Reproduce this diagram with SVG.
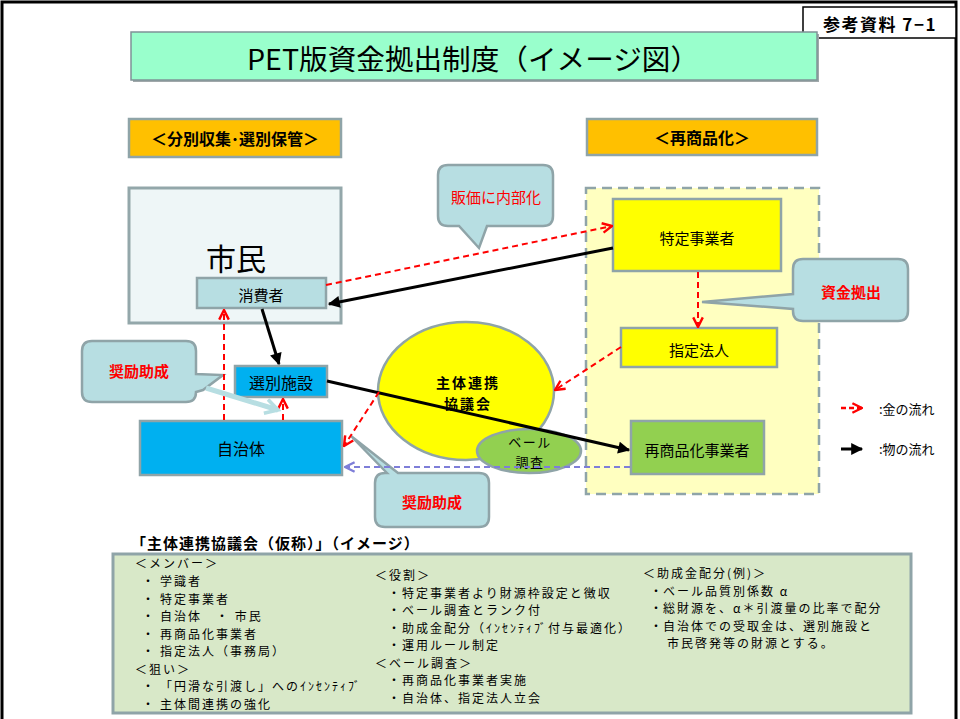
<svg xmlns="http://www.w3.org/2000/svg" width="960" height="719" viewBox="0 0 960 719">
<defs>
<style>
text{font-family:"Noto Sans CJK JP","Noto Sans",sans-serif;fill:#000;}
.c{text-anchor:middle;dominant-baseline:central;}
.n{font-size:15px;}
.b{font-weight:bold;}
.red{fill:#FF0000;}
.node{stroke:#8FA4A8;stroke-width:2.5;}
.call{fill:#B7DEE2;stroke:#8FA4A8;stroke-width:2.5;}
.money{fill:none;stroke:#FF0000;stroke-width:2;stroke-dasharray:6 4;marker-end:url(#mr);}
.goods{fill:none;stroke:#000;stroke-width:3;marker-end:url(#mb);}
.body text{font-size:12px;letter-spacing:2px;}
</style>
<marker id="mr" viewBox="0 0 10 10" refX="9" refY="5" markerWidth="12" markerHeight="12" markerUnits="userSpaceOnUse" orient="auto"><path d="M1,1 L9,5 L1,9" fill="none" stroke="#FF0000" stroke-width="2"/></marker>
<marker id="mb" viewBox="0 0 10 10" refX="9" refY="5" markerWidth="14" markerHeight="12" markerUnits="userSpaceOnUse" orient="auto"><path d="M0,0 L10,5 L0,10 z" fill="#000"/></marker>
<marker id="mp" viewBox="0 0 10 10" refX="9" refY="5" markerWidth="12" markerHeight="12" markerUnits="userSpaceOnUse" orient="auto"><path d="M1,1 L9,5 L1,9" fill="none" stroke="#7E7ED8" stroke-width="2"/></marker>
<marker id="ml" viewBox="0 0 10 10" refX="8" refY="5" markerWidth="18" markerHeight="18" markerUnits="userSpaceOnUse" orient="auto"><path d="M1,1 L8,5 L1,9" fill="none" stroke="#B7DEE2" stroke-width="2"/></marker>
</defs>

<rect x="0" y="0" width="960" height="719" fill="#fff"/>
<rect x="2" y="2" width="954" height="740" fill="none" stroke="#000" stroke-width="3"/>

<g id="ref-label">
<rect x="803" y="7" width="153" height="31" fill="#fff" stroke="#000" stroke-width="1.5"/>
<text class="c b" x="880" y="23" font-size="17" letter-spacing="1.5">参考資料 7−1</text>
</g>

<g id="title">
<rect x="133" y="34" width="686" height="48" fill="#A0A8AA"/>
<rect x="131" y="32" width="686" height="48" fill="#99FFCC" stroke="#7F9396" stroke-width="1.5"/>
<text class="c" x="473" y="58" font-size="28" textLength="452" lengthAdjust="spacingAndGlyphs">PET版資金拠出制度（イメージ図）</text>
</g>

<g id="header-left">
<rect x="129" y="119" width="212" height="38" fill="#FFC000" stroke="#8FA4A8" stroke-width="2.5"/>
<text class="c b" x="235" y="138" font-size="16">＜分別収集･選別保管＞</text>
</g>
<g id="header-right">
<rect x="587" y="119" width="230" height="36" fill="#FFC000" stroke="#8FA4A8" stroke-width="2.5"/>
<text class="c b" x="702" y="137" font-size="16">＜再商品化＞</text>
</g>

<g id="citizens">
<rect x="129" y="188" width="212" height="135" fill="#EEF6F7" stroke="#93A7AA" stroke-width="3"/>
<text class="c" x="236" y="257" font-size="30">市民</text>
</g>

<g id="region-right">
<rect x="586" y="188" width="233" height="306" fill="#FFFFC0" stroke="#8FA4A8" stroke-width="2.5" stroke-dasharray="10 6"/>
</g>

<g id="consumer">
<rect class="node" x="197" y="278" width="129" height="30" fill="#B7DEE2"/>
<text class="c n" x="261" y="294">消費者</text>
</g>
<g id="sorting">
<rect class="node" x="235" y="366" width="92" height="31" fill="#00B0F0"/>
<text class="c" x="281" y="382" font-size="16">選別施設</text>
</g>
<g id="municipality">
<rect class="node" x="140" y="421" width="202" height="54" fill="#00B0F0"/>
<text class="c" x="241" y="448" font-size="16">自治体</text>
</g>
<g id="specified-business">
<rect class="node" x="613" y="199" width="168" height="72" fill="#FFFF00"/>
<text class="c n" x="697" y="237">特定事業者</text>
</g>
<g id="designated-corp">
<rect class="node" x="621" y="328" width="156" height="39" fill="#FFFF00"/>
<text class="c n" x="699" y="349">指定法人</text>
</g>
<g id="recycler">
<rect class="node" x="631" y="421" width="133" height="53" fill="#92D050"/>
<text class="c n" x="697" y="449">再商品化事業者</text>
</g>

<g id="council">
<ellipse cx="466" cy="391" rx="88" ry="69" fill="#FFFF00" stroke="#8FA4A8" stroke-width="2.5"/>
<text class="c b" x="468" y="382" font-size="14" letter-spacing="2">主体連携</text>
<text class="c b" x="468" y="403" font-size="14" letter-spacing="2">協議会</text>
</g>
<g id="bale-survey">
<ellipse cx="529" cy="451" rx="52" ry="22" fill="#92D050" stroke="#8FA4A8" stroke-width="2.5"/>
<text class="c" x="530" y="441" font-size="13" letter-spacing="1.5">ベール</text>
<text class="c" x="530" y="461" font-size="13" letter-spacing="1.5">調査</text>
</g>

<g id="callout-price">
<path class="call" d="M448,165 H543 Q553,165 553,175 V216 Q553,226 543,226 H487 L479,248 L459,226 H448 Q438,226 438,216 V175 Q438,165 448,165 Z"/>
<text class="c red" x="496" y="196" font-size="15">販価に内部化</text>
</g>
<g id="callout-fund">
<path class="call" d="M803,259 H898 Q908,259 908,269 V311 Q908,321 898,321 H803 Q793,321 793,311 V309 L702,302 L793,294 V269 Q793,259 803,259 Z"/>
<text class="c b red" x="851" y="291" font-size="15">資金拠出</text>
</g>
<g id="callout-subsidy-left">
<path class="call" d="M92,341 H186 Q196,341 196,351 V374 L223,375 L203,390 L196,392 Q196,402 186,402 H92 Q82,402 82,392 V351 Q82,341 92,341 Z"/>
<text class="c b red" x="139" y="370" font-size="15">奨励助成</text>
</g>
<g id="callout-subsidy-bottom">
<path class="call" d="M387,473 L351,436 L398,473 H479 Q489,473 489,483 V517 Q489,527 479,527 H385 Q375,527 375,517 V483 Q375,473 385,473 Z"/>
<text class="c b red" x="432" y="501" font-size="15">奨励助成</text>
</g>

<g id="connectors">
<line class="money" x1="326" y1="285" x2="612" y2="226"/>
<line class="goods" x1="613" y1="248" x2="329" y2="304"/>
<line class="goods" x1="262" y1="309" x2="279" y2="364"/>
<line class="goods" x1="327" y1="381" x2="629" y2="450"/>
<line class="money" x1="698" y1="272" x2="698" y2="327"/>
<line class="money" x1="621" y1="347" x2="555" y2="390"/>
<line class="money" x1="379" y1="392" x2="344" y2="446"/>
<line class="money" x1="224" y1="420" x2="224" y2="310"/>
<line class="money" x1="283" y1="420" x2="283" y2="399"/>
<line x1="630" y1="467" x2="345" y2="467" fill="none" stroke="#7E7ED8" stroke-width="2" stroke-dasharray="6 4" marker-end="url(#mp)"/>
<line x1="206" y1="388" x2="278" y2="410" stroke="#B7DEE2" stroke-width="5" marker-end="url(#ml)"/>
</g>

<g id="legend">
<line x1="841" y1="408" x2="862" y2="408" fill="none" stroke="#FF0000" stroke-width="2.5" stroke-dasharray="5 3" marker-end="url(#mr)"/>
<text x="879" y="414" font-size="13">:金の流れ</text>
<line x1="841" y1="449" x2="862" y2="449" stroke="#000" stroke-width="3" marker-end="url(#mb)"/>
<text x="879" y="454" font-size="13">:物の流れ</text>
</g>

<g id="council-details">
<text class="b" x="131" y="549" font-size="15" letter-spacing="1">「主体連携協議会（仮称）」（イメージ）</text>
<rect x="113" y="554" width="798" height="159" fill="#D8E8C8" stroke="#8FA4A8" stroke-width="3"/>
<g class="body">
<text x="135" y="568">＜メンバー＞</text>
<text x="142" y="586">・</text><text x="160" y="586">学識者</text>
<text x="142" y="603.5">・</text><text x="160" y="603.5">特定事業者</text>
<text x="142" y="621">・</text><text x="160" y="621">自治体　・ 市民</text>
<text x="142" y="638.5">・</text><text x="160" y="638.5">再商品化事業者</text>
<text x="142" y="656">・</text><text x="160" y="656">指定法人（事務局）</text>
<text x="135" y="673.5">＜狙い＞</text>
<text x="142" y="691">・</text><text x="160" y="691">「円滑な引渡し」へのｲﾝｾﾝﾃｨﾌﾞ</text>
<text x="142" y="708.5">・</text><text x="160" y="708.5">主体間連携の強化</text>

<text x="375" y="580">＜役割＞</text>
<text x="388" y="597.5">・</text><text x="402" y="597.5">特定事業者より財源枠設定と徴収</text>
<text x="388" y="615">・</text><text x="402" y="615">ベール調査とランク付</text>
<text x="388" y="632.5">・</text><text x="402" y="632.5">助成金配分（ｲﾝｾﾝﾃｨﾌﾞ付与最適化）</text>
<text x="388" y="650">・</text><text x="402" y="650">運用ルール制定</text>
<text x="375" y="667.5">＜ベール調査＞</text>
<text x="388" y="685">・</text><text x="402" y="685">再商品化事業者実施</text>
<text x="388" y="702.5">・</text><text x="402" y="702.5">自治体、指定法人立会</text>

<text x="643" y="578">＜助成金配分(例)＞</text>
<text x="650" y="595.5">・</text><text x="663" y="595.5">ベール品質別係数 α</text>
<text x="650" y="613">・</text><text x="663" y="613">総財源を、α＊引渡量の比率で配分</text>
<text x="650" y="630.5">・</text><text x="663" y="630.5">自治体での受取金は、選別施設と</text>
<text x="667" y="648">市民啓発等の財源とする。</text>
</g>
</g>
</svg>
